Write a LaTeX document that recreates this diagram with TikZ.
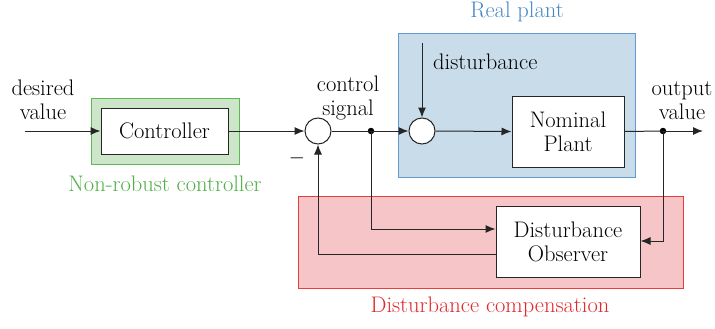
\documentclass[tikz,border=0pt]{standalone}
\usepackage{fontspec}
\setmainfont{Latin Modern Roman}
\usetikzlibrary{arrows.meta}
\definecolor{grnfill}{RGB}{205,230,201}
\definecolor{grnline}{RGB}{90,185,80}
\definecolor{grntext}{RGB}{80,175,70}
\definecolor{bluefill}{RGB}{201,220,234}
\definecolor{blueline}{RGB}{95,155,210}
\definecolor{bluetext}{RGB}{70,135,195}
\definecolor{redfill}{RGB}{246,197,200}
\definecolor{redline}{RGB}{235,60,60}
\definecolor{redtext}{RGB}{225,40,45}
\tikzset{
  x=1pt, y=-1pt,
  every node/.style={font=\fontsize{22.5}{24}\selectfont, inner sep=0pt},
  block/.style={draw=black!85, fill=white, line width=1pt, align=center},
  region/.style={line width=0.9pt},
  sumpt/.style={draw=black!85, fill=white, circle, minimum size=26pt, line width=1pt},
  junction/.style={circle, fill=black, minimum size=6.5pt},
  sig/.style={line width=1pt, draw=black!85, -{Latex[length=10pt,width=8pt]}},
  wire/.style={line width=1pt, draw=black!85},
  lbl/.style={align=center},
}
\begin{document}
\begin{tikzpicture}
\useasboundingbox (0,0) rectangle (715,329);

% shaded groupings
\draw[region, draw=grnline, fill=grnfill] (91,98) rectangle (239,164);
\draw[region, draw=blueline, fill=bluefill] (398,33) rectangle (635,177);
\draw[region, draw=redline, fill=redfill] (298,196) rectangle (683,288);

\node[text=grntext] (grplbl) at (165,184) {Non-robust controller};
\node[text=bluetext, anchor=base] (plantlbl) at (517,18) {Real plant};
\node[text=redtext] (complbl) at (490,307) {Disturbance compensation};

% blocks
\node[block, minimum width=127pt, minimum height=46pt] (ctrl) at (164.5,131) {Controller};
\node[block, minimum width=112pt, minimum height=71pt] (plant) at (568,131.5) {Nominal\\Plant};
\node[block, minimum width=144pt, minimum height=71pt] (dob) at (568,241.5) {Disturbance\\Observer};

\node[sumpt] (sum1) at (318,131) {};
\node[sumpt] (sum2) at (422,131) {};
\node[junction] (j1) at (371,131) {};
\node[junction] (j2) at (663,131) {};

% free ends
\coordinate (inp) at (25,131);
\coordinate (outp) at (703,131);
\coordinate (dist) at (422,43);

% labels
\node[lbl] (desired) at (43,100) {desired\\value};
\node[lbl] (ctrlsig) at (348,98) {control\\signal};
\node[lbl] (outval) at (682,101) {output\\value};
\node[anchor=west] (distlbl) at (433,62) {disturbance};
\node (minus) at (297,158) {$-$};

% signal paths
\draw[sig] (inp) -- (ctrl.west);
\draw[sig] (ctrl.east) -- (sum1.west);
\draw[wire] (sum1.east) -- (j1.center);
\draw[sig] (j1.center) -- (sum2.west);
\draw[sig] (dist) -- (sum2.north);
\draw[sig] (sum2.east) -- (plant.west);
\draw[wire] (plant.east) -- (j2.center);
\draw[sig] (j2.center) -- (outp);
\draw[sig] (j1.center) |- (dob.west |- 0,229);
\draw[sig] (j2.center) |- (dob.east |- 0,241);
\draw[sig] (dob.west |- 0,254) -| (sum1.south);
\end{tikzpicture}
\end{document}
